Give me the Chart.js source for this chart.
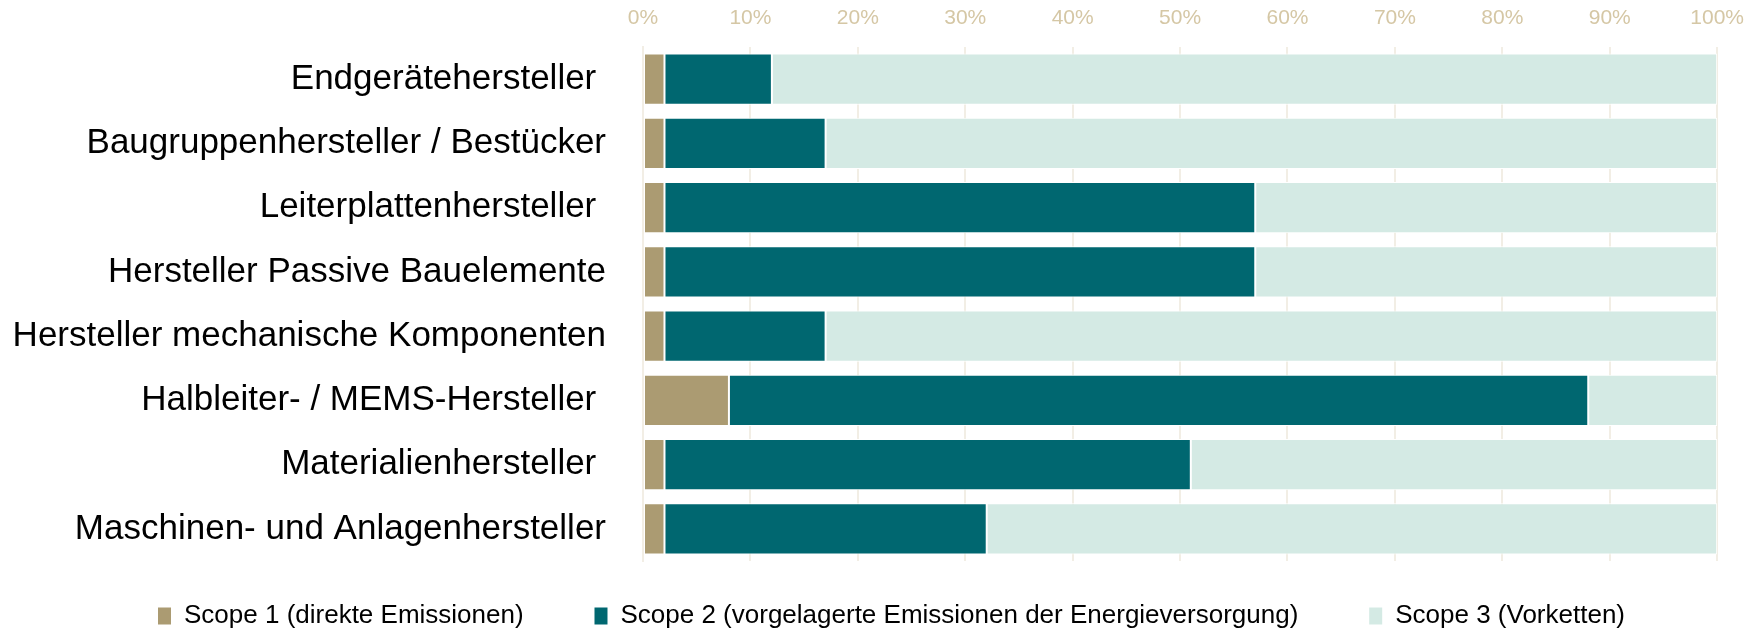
<!DOCTYPE html>
<html>
<head>
<meta charset="utf-8">
<script src="https://cdn.jsdelivr.net/npm/chart.js@4"></script>
<style>
  html, body { margin: 0; padding: 0; background: #fff; }
  #wrap { width: 1760px; height: 633px; }
</style>
</head>
<body>
<div id="wrap"><canvas id="chart" width="1760" height="633"></canvas></div>
<script>
// trailing spaces are in the original labels
const categories = [
    'Endgerätehersteller ',
    'Baugruppenhersteller / Bestücker',
    'Leiterplattenhersteller ',
    'Hersteller Passive Bauelemente',
    'Hersteller mechanische Komponenten',
    'Halbleiter- / MEMS-Hersteller ',
    'Materialienhersteller ',
    'Maschinen- und Anlagenhersteller'
];
const seriesNames = [
    'Scope 1 (direkte Emissionen)',
    'Scope 2 (vorgelagerte Emissionen der Energieversorgung)',
    'Scope 3 (Vorketten)'
];
const scope1 = [2, 2, 2, 2, 2, 8, 2, 2];
const scope2 = [10, 15, 55, 55, 15, 80, 49, 30];
const scope3 = [88, 83, 43, 43, 83, 12, 49, 68];
const xTicks = [0, 10, 20, 30, 40, 50, 60, 70, 80, 90, 100];

const colors = ['#ab9b72', '#006770', '#d4eae4'];
// extra room after the first two legend entries
const legendGap = ['\u00a0\u00a0\u00a0\u00a0', '\u00a0\u00a0\u00a0\u00a0', ''];

const mkSet = (label, data, color) => ({
    label: label,
    data: data,
    backgroundColor: color,
    borderColor: '#ffffff',
    borderWidth: 1,
    borderSkipped: false,
    barPercentage: 0.8,
    categoryPercentage: 1.0
});

// nudge the centred legend row to where the original has it
const legendShift = {
    id: 'legendShift',
    afterLayout(chart) {
        chart.legend.left += 32;
        chart.legend.right += 32;
    }
};

const ctx = document.getElementById('chart').getContext('2d');
new Chart(ctx, {
    type: 'bar',
    data: {
        labels: categories,
        datasets: [
            mkSet(seriesNames[0], scope1, colors[0]),
            mkSet(seriesNames[1], scope2, colors[1]),
            mkSet(seriesNames[2], scope3, colors[2])
        ]
    },
    plugins: [legendShift],
    options: {
        indexAxis: 'y',
        responsive: false,
        animation: false,
        layout: { padding: { top: 0, right: 41, bottom: 0, left: 0 } },
        scales: {
            x: {
                position: 'top',
                stacked: true,
                min: 0,
                max: 100,
                afterBuildTicks: (scale) => {
                    scale.ticks = xTicks.map(v => ({ value: v }));
                },
                afterFit: (scale) => { scale.height = 47; },
                grid: {
                    color: '#f2eee5',
                    lineWidth: 2,
                    drawTicks: false
                },
                border: { display: false },
                ticks: {
                    padding: 16,
                    color: '#d5c7a5',
                    font: { family: "'Liberation Sans Narrow', 'Arial Narrow', 'Liberation Sans', Arial", size: 21 },
                    callback: (v) => v + '%'
                }
            },
            y: {
                stacked: true,
                afterFit: (scale) => { scale.width = 643; },
                grid: { display: false },
                border: { display: true, color: '#f2eee5', width: 2 },
                ticks: {
                    padding: 29,
                    color: '#000000',
                    font: { family: "'Liberation Sans', Arial", size: 35, lineHeight: 1 }
                }
            }
        },
        plugins: {
            tooltip: { enabled: false },
            legend: {
                position: 'bottom',
                maxHeight: 72,
                labels: {
                    padding: 42,
                    boxWidth: 13,
                    boxHeight: 17,
                    color: '#000000',
                    font: { family: "'Liberation Sans', Arial", size: 26 },
                    generateLabels: (chart) => Chart.defaults.plugins.legend.labels.generateLabels(chart)
                        .map((item, i) => Object.assign(item, { text: item.text + legendGap[i], lineWidth: 0 }))
                }
            }
        }
    }
});
</script>
</body>
</html>
